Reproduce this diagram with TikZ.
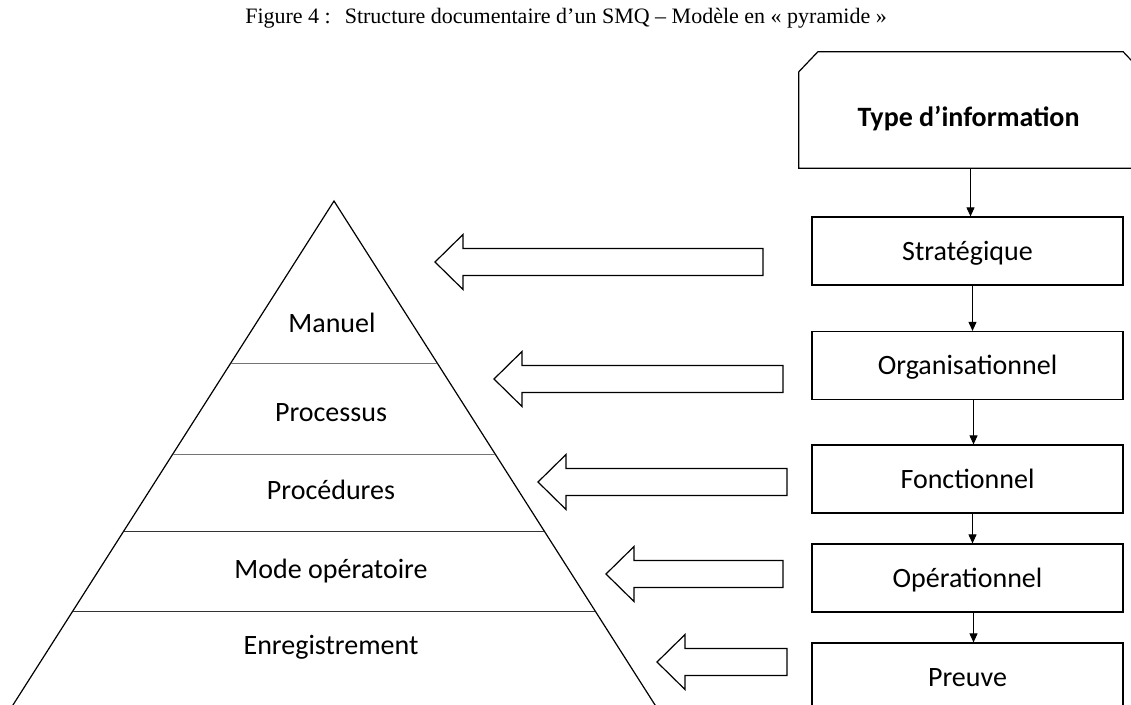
\documentclass[tikz,border=0pt]{standalone}
\usepackage{fontspec}
\setmainfont{Carlito}
\newfontfamily\captionfont{Liberation Serif}
\usetikzlibrary{arrows.meta,calc}
\begin{document}
\begin{tikzpicture}[x=1pt,y=-1pt,
  bigtext/.style={font=\fontsize{28}{32}\selectfont, text height=18pt, text depth=0pt, inner sep=0pt},
  infobox/.style={bigtext, draw, line width=1.2pt, minimum width=311pt, minimum height=68pt},
  link/.style={line width=0.9pt, -{Triangle[length=9pt,width=8pt]}},
  side/.style={line width=1.2pt},
  layer/.style={line width=0.9pt},
  blockarrow/.style={draw, line width=1.2pt, line join=miter}
]
\useasboundingbox (0,0) rectangle (1131,704);
\clip (0,0) rectangle (1131,704);

% caption
\node (title) at (566,18) {\captionfont\fontsize{22}{26}\selectfont Figure 4 :\hspace{14pt}Structure documentaire d’un SMQ – Modèle en « pyramide »};

% header box with cut top corners
\node (typebox) at (970.5,110) [minimum width=343pt, minimum height=116pt, inner sep=0pt] {};
\node (typelbl) at (968.5,117) [bigtext, font=\bfseries\fontsize{28}{32}\selectfont] {Type d’information};
\draw[line width=1.2pt] (typebox.south west) -- ($(typebox.north west)+(0,20)$) -- ($(typebox.north west)+(19,0)$)
  -- ($(typebox.north east)+(-19,0)$) -- ($(typebox.north east)+(0,20)$) -- (typebox.south east) -- cycle;

% information levels
\node[infobox] (strat)  at (967.5,251)   {Stratégique};
\node[infobox] (organ)  at (967.5,365.5) {Organisationnel};
\node[infobox] (fonct)  at (967.5,479)   {Fonctionnel};
\node[infobox] (operat) at (967.5,578)   {Opérationnel};
\node[infobox] (preuve) at (967.5,677)   {Preuve};

\draw[link] (typebox.south) -- ([xshift=3pt]strat.north);
\draw[link] ([xshift=5pt]strat.south) -- ([xshift=5pt]organ.north);
\draw[link] ([xshift=6pt]organ.south) -- ([xshift=6pt]fonct.north);
\draw[link] ([xshift=5pt]fonct.south) -- ([xshift=5pt]operat.north);
\draw[link] ([xshift=6pt]operat.south) -- ([xshift=6pt]preuve.north);

% pyramid
\coordinate (apex) at (334,201);
\coordinate (bl) at (3.4,720);
\coordinate (br) at (664.6,720);
\draw[side] (bl) -- (apex) -- (br);
\foreach \t/\shade in {0.3121/55,0.4875/55,0.6358/80,0.79/80}
  \draw[layer, black!\shade] ($(apex)!\t!(bl)$) -- ($(apex)!\t!(br)$);

\node[bigtext] (manuel) at (332,323) {Manuel};
\node[bigtext] (proc)   at (331,412) {Processus};
\node[bigtext] (procd)  at (331,490) {Procédures};
\node[bigtext] (mode)   at (331,569) {Mode opératoire};
\node[bigtext] (enreg)  at (331,645) {Enregistrement};

% hollow arrows pointing to the pyramid levels
\foreach \tip/\tail/\y in {435/763/262, 494/783/379, 538/787/482, 606/783/574, 657/787/662}
  \draw[blockarrow] (\tail,\y-13.5) -- (\tip+28,\y-13.5) -- (\tip+28,\y-27.5) -- (\tip,\y)
    -- (\tip+28,\y+27.5) -- (\tip+28,\y+13.5) -- (\tail,\y+13.5) -- cycle;
\end{tikzpicture}
\end{document}
